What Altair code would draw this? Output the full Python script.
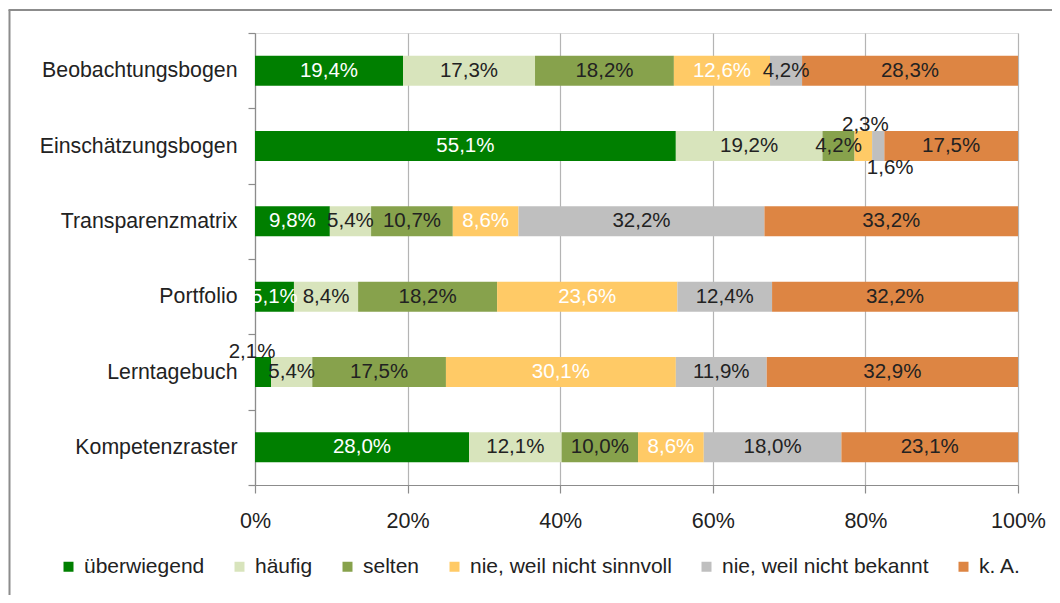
import altair as alt
import pandas as pd

categories = ["Beobachtungsbogen", "Einschätzungsbogen", "Transparenzmatrix",
              "Portfolio", "Lerntagebuch", "Kompetenzraster"]
series = ["überwiegend", "häufig", "selten", "nie, weil nicht sinnvoll",
          "nie, weil nicht bekannt", "k. A."]
colors = ["#007F00", "#D8E4BC", "#87A24C", "#FFCA66", "#BFBFBF", "#DD8543"]

ueberwiegend = [19.4, 55.1, 9.8, 5.1, 2.1, 28.0]
haeufig = [17.3, 19.2, 5.4, 8.4, 5.4, 12.1]
selten = [18.2, 4.2, 10.7, 18.2, 17.5, 10.0]
nie_sinnvoll = [12.6, 2.3, 8.6, 23.6, 30.1, 8.6]
nie_bekannt = [4.2, 1.6, 32.2, 12.4, 11.9, 18.0]
k_a = [28.3, 17.5, 33.2, 32.2, 32.9, 23.1]

x_ticks = [0, 0.2, 0.4, 0.6, 0.8, 1.0]

value_lists = [ueberwiegend, haeufig, selten, nie_sinnvoll, nie_bekannt, k_a]
rows = []
for si, (s, vals) in enumerate(zip(series, value_lists)):
    for c, v in zip(categories, vals):
        rows.append({"cat": c, "series": s, "order": si, "value": v})
df = pd.DataFrame(rows)

FONT = "Liberation Sans"
TXT = "#222222"
AX = "#8C8C8C"

base = alt.Chart(df).transform_stack(
    stack="value", groupby=["cat"], as_=["x0", "x1"],
    sort=[alt.SortField("order")], offset="normalize"
)

y_enc = alt.Y("cat:N", sort=categories,
              scale=alt.Scale(paddingInner=0, paddingOuter=0),
              axis=alt.Axis(title=None, labelFontSize=21.3, labelColor=TXT,
                            labelFont=FONT, domainColor=AX, tickColor=AX,
                            tickSize=7, tickBand="extent", labelPadding=11,
                            labelLimit=0, grid=False, domainWidth=1.2,
                            tickWidth=1.2))

x_axis = alt.Axis(title=None, format=".0%", values=x_ticks, grid=True,
                  gridColor="#B4B4B4", gridWidth=1.2, labelFontSize=21.5,
                  labelColor=TXT, labelFont=FONT, domainColor=AX,
                  tickColor=AX, tickSize=8, labelPadding=17,
                  labelFlush=False, domainWidth=1.2, tickWidth=1.2)

bars = base.mark_bar(size=30).encode(
    x=alt.X("x0:Q", scale=alt.Scale(domain=[0, 1], nice=False), axis=x_axis),
    x2="x1:Q",
    y=y_enc,
    color=alt.Color("series:N", sort=series,
                    scale=alt.Scale(domain=series, range=colors),
                    legend=alt.Legend(orient="none", legendX=-197, legendY=523,
                                      direction="horizontal", columns=6,
                                      title=None, symbolType="square",
                                      symbolSize=100, symbolStrokeWidth=0,
                                      labelFontSize=21, labelFont=FONT,
                                      labelColor=TXT, columnPadding=24,
                                      labelOffset=5, labelLimit=0)),
)

lab = base.transform_calculate(
    mid="(datum.x0 + datum.x1) / 2",
    label="replace(format(datum.value, '.1f'), '.', ',') + '%'",
)

special = ("(datum.cat == 'Einschätzungsbogen' && (datum.order == 3 || datum.order == 4))"
           " || (datum.cat == 'Lerntagebuch' && datum.order == 0)")

def text_layer(filt, color, dx=0, dy=0):
    return lab.transform_filter(filt).mark_text(
        fontSize=20.5, font=FONT, color=color, dx=dx, dy=dy
    ).encode(x="mid:Q", y=alt.Y("cat:N", sort=categories), text="label:N")

white_txt = text_layer(f"!({special}) && (datum.order == 0 || datum.order == 3)", "white")
dark_txt = text_layer(f"!({special}) && !(datum.order == 0 || datum.order == 3)", TXT)
t_above = text_layer("datum.cat == 'Einschätzungsbogen' && datum.order == 3", TXT, dx=2, dy=-21)
t_below = text_layer("datum.cat == 'Einschätzungsbogen' && datum.order == 4", TXT, dx=12, dy=22)
t_lern = text_layer("datum.cat == 'Lerntagebuch' && datum.order == 0", TXT, dx=-11, dy=-20)

one = pd.DataFrame({"k": [0]})
frame_left = alt.Chart(one).mark_rule(color="#8C8C8C", strokeWidth=2).encode(
    x=alt.value(-245.5), y=alt.value(-23), y2=alt.value(570))
frame_top = alt.Chart(one).mark_rule(color="#8C8C8C", strokeWidth=2).encode(
    x=alt.value(-246.5), x2=alt.value(800), y=alt.value(-23))

chart = alt.layer(
    bars, white_txt, dark_txt, t_above, t_below, t_lern, frame_left, frame_top
).properties(
    width=763, height=452,
    padding={"left": 247, "top": 25, "right": 34, "bottom": 110},
    autosize=alt.AutoSizeParams(type="none"),
    background="white",
).configure_view(stroke=None).configure(font=FONT)

chart.save("out.html", embed_options={"renderer": "svg", "actions": False})
